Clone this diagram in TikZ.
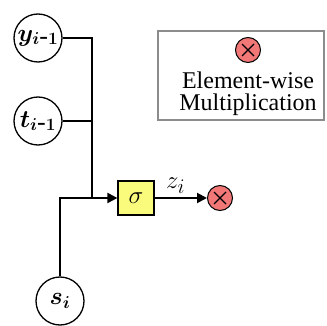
\documentclass[tikz,border=0pt]{standalone}
\usepackage{fontspec}
\setmainfont{Liberation Serif}
\usetikzlibrary{arrows.meta,calc}
\definecolor{sigfill}{RGB}{250,250,125}
\definecolor{mulfill}{RGB}{242,120,120}
\definecolor{legframe}{RGB}{140,140,140}
\tikzset{
  varnode/.style={circle,draw,line width=1.3pt,minimum size=48pt,inner sep=0pt,font=\fontsize{26}{30}\selectfont\boldmath},
  conn/.style={line width=2pt},
  arr/.style={conn,-{Triangle[length=10pt,width=10pt]}},
  sigbox/.style={draw,line width=1.2pt,fill=sigfill,minimum width=36pt,minimum height=34pt,inner sep=0pt,font=\fontsize{26}{30}\selectfont},
  mulnode/.style={circle,draw,line width=1pt,fill=mulfill,minimum size=25pt,inner sep=0pt,
    path picture={
      \draw[line width=1.3pt] ([shift={(-6,-6)}]path picture bounding box.center) -- ([shift={(6,6)}]path picture bounding box.center);
      \draw[line width=1.3pt] ([shift={(-6,6)}]path picture bounding box.center) -- ([shift={(6,-6)}]path picture bounding box.center);
    }},
  legtext/.style={font=\fontsize{24}{28}\selectfont,inner sep=0pt}
}
\begin{document}
\begin{tikzpicture}[x=1pt,y=-1pt]
\useasboundingbox (0,0) rectangle (327,326);
\node[varnode] (y) at (38,38) {$y_{i\mbox{-}1}$};
\node[varnode] (t) at (38,121) {$t_{i\mbox{-}1}$};
\node[varnode] (s) at (60,301) {$s_i$};
\node[sigbox] (sig) at (136,198) {$\sigma$};
\node[mulnode] (mul) at (220,198) {};
\coordinate (j) at (92,198);
\draw[conn] (y.east) -| (j);
\draw[conn] (t.east) -- (t.east -| j);
\draw[arr] (s.north) |- (sig.west);
\draw[arr] (sig.east) -- (mul.west) node[pos=0.4,above=0pt,font=\fontsize{28}{32}\selectfont] (zl) {$z_i$};
\node[draw=legframe,line width=2pt,minimum width=166pt,minimum height=89pt,inner sep=0pt] (legend) at (241,75.5) {};
\node[mulnode] (legmul) at (248,50) {};
\node[legtext] (l1) at (248,80) {Element-wise};
\node[legtext] (l2) at (248,105) {Multiplication};
\end{tikzpicture}
\end{document}
